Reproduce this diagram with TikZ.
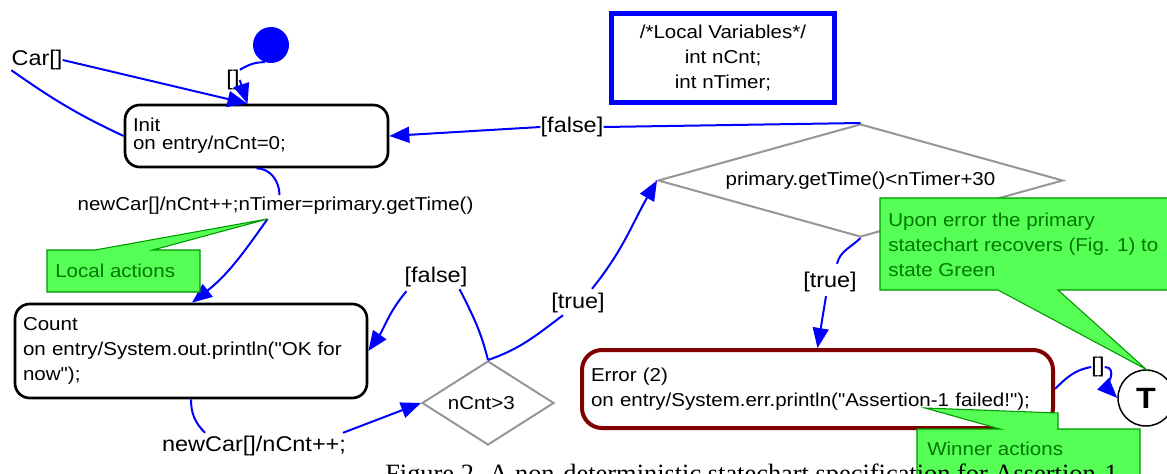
\documentclass[tikz,border=0pt]{standalone}
\usepackage{fontspec}
\setmainfont{Liberation Serif}
\setsansfont[FakeStretch=1.1, Ligatures=TeXOff]{Liberation Sans}
\usetikzlibrary{shapes.geometric,arrows.meta,calc}

\definecolor{notefill}{RGB}{85,255,85}
\definecolor{noteline}{RGB}{0,150,0}
\definecolor{notetext}{RGB}{0,120,0}
\definecolor{errline}{RGB}{128,0,0}
\definecolor{diagray}{RGB}{150,150,150}

\begin{document}
\begin{tikzpicture}[
        x=0.75pt, y=-0.75pt, % 1 unit = 1 px, y goes down
        every node/.style={inner sep=0pt, font=\sffamily\fontsize{14}{14}\selectfont},
        state/.style={draw, line width=2pt, rounded corners=11pt, align=left, inner xsep=6pt}, % states
        choice/.style={diamond, draw=diagray, line width=1.5pt}, % decisions
        guard/.style={font=\sffamily\fontsize{16}{16}\selectfont},
        trans/.style={draw=blue, line width=1.5pt},
        tr/.style={trans, -{Triangle[length=15pt,width=12pt]}},
        note/.style={fill=notefill, draw=noteline, line width=0.8pt},
        notetxt/.style={text=notetext, align=left, font=\sffamily\fontsize{14}{18.75}\selectfont},
    ]
    \useasboundingbox (0,0) rectangle (1167,474);
    \clip (0,0) rectangle (1167,474);

    % states
    \node[circle, fill=blue, minimum size=27pt] (start) at (271,45) {};
    \node[state, text width=185.25pt, minimum height=46.5pt, font=\sffamily\fontsize{14}{13.5}\selectfont] (init) at (256.5,136) {Init\\on entry/nCnt=0;};
    \node[state, text width=252pt, minimum height=70.5pt, font=\sffamily\fontsize{14}{19}\selectfont] (count) at (191,351) {Count\\on entry/System.out.println("OK for\\now");};
    \node[state, draw=errline, line width=3pt, rounded corners=15pt, inner xsep=6.75pt, text width=339.75pt, minimum height=58.5pt, font=\sffamily\fontsize{14}{18.75}\selectfont] (error) at (817.5,389) {Error (2)\\on entry/System.err.println("Assertion-1 failed!");};
    \node[circle, draw, line width=1.1pt, minimum size=42pt, font=\sffamily\bfseries\fontsize{22}{22}\selectfont] (final) at (1146,398) {T};
    \node[draw=blue, line width=3.4pt, minimum width=167.6pt, minimum height=67pt, align=center, font=\sffamily\fontsize{14}{19}\selectfont] (vars) at (723,58) {/*Local Variables*/\\int nCnt;\\int nTimer;};

    % decisions
    \node[choice, aspect=3.58, minimum width=303.75pt, minimum height=84.75pt] (timechk) at (860.5,180.5) {primary.getTime()<nTimer+30};
    \node[choice, aspect=1.57, minimum width=99pt, minimum height=63pt] (cntchk) at (488,403) {\hspace*{-10pt}nCnt>3};

    % labels
    \node[guard] (car) at (37,60) {Car[]};
    \node[guard] (g1) at (233,80) {[]};
    \node (act1) at (275.5,206) {newCar[]/nCnt++;nTimer=primary.getTime()};
    \node[guard] (act2) at (254,446) {newCar[]/nCnt++;};
    \node[guard] (g2) at (436,277) {[false]};
    \node[guard] (g3) at (578,303) {[true]};
    \node[guard] (g4) at (572,127) {[false]};
    \node[guard] (g5) at (830,282) {[true]};
    \node[guard] (g6) at (1098,367) {[]};

    % transitions
    \draw[trans] (start.250) to[out=180,in=30] (g1.north east);
    \draw[tr] (g1.east) -- ($(init.north)+(-9,0)$);
    \draw[trans] (init.west) to[out=155,in=-35] (car.south west);
    \draw[tr] (car.east) -- ($(init.north)+(-9,0)$);
    \draw[trans] (init.south) to[out=0,in=90] ($(act1.north)+(4,-2)$);
    \coordinate (a1tip) at ($(act1.south)+(-8,4)$);
    \draw[tr] (a1tip) to[out=-125,in=38] ($(count.north)+(1,0)$);
    \draw[trans] (count.south) to[out=-90,in=135] ($(act2.north)+(-49,-3)$);
    \draw[tr] ($(act2.north)+(89,-3)$) -- (cntchk.west);
    \draw[trans] (cntchk.north) to[out=104,in=-63] ($(g2.south east)+(-8,2)$);
    \draw[tr] ($(g2.south west)+(2,4)$) to[out=-130,in=55] (count.east);
    \draw[trans] (cntchk.north) to[out=19,in=-143] ($(g3.south west)+(12,2)$);
    \draw[tr] ($(g3.north)+(14,-4)$) to[out=51,in=-120] (timechk.west);
    \draw[trans] (timechk.north) -- (g4.east);
    \draw[tr] (g4.west) -- (init.east);
    \draw[trans] (timechk.south) to[out=-135,in=76] ($(g5.north)+(7,-8)$);
    \draw[tr] ($(g5.south)+(-4,4)$) -- (error.north);
    \draw[trans] (error.east) to[out=45,in=-170] (g6.west);
    \draw[tr] (g6.east) to[out=0,in=135] (final.west);

    % notes
    \filldraw[note] (47,250) -- (95,250) -- (a1tip) -- (153,250) -- (200,250) -- (200,292) -- (47,292) -- cycle;
    \node[notetxt, anchor=base west] (locnote) at (55,277) {Local actions};
    \filldraw[note] (880,198) -- (1180,198) -- (1180,290) -- (1058,290) -- (final.north) -- (998,290) -- (880,290) -- cycle;
    \node[notetxt, anchor=west] (recnote) at (888,245) {Upon error the primary\\statechart recovers (Fig. 1) to\\state Green};
    \filldraw[note] (917,429) -- (1000,429) -- (925,408) -- (1058,413) -- (1058,429) -- (1140,429) -- (1140,490) -- (917,490) -- cycle;
    \node[notetxt, anchor=base west] (winnote) at (927,455) {Winner actions};

    \node[anchor=base west, font=\rmfamily\fontsize{19.8}{19.8}\selectfont] (caption) at (385,482) {Figure 2. A non-deterministic statechart specification for Assertion-1};
\end{tikzpicture}
\end{document}
